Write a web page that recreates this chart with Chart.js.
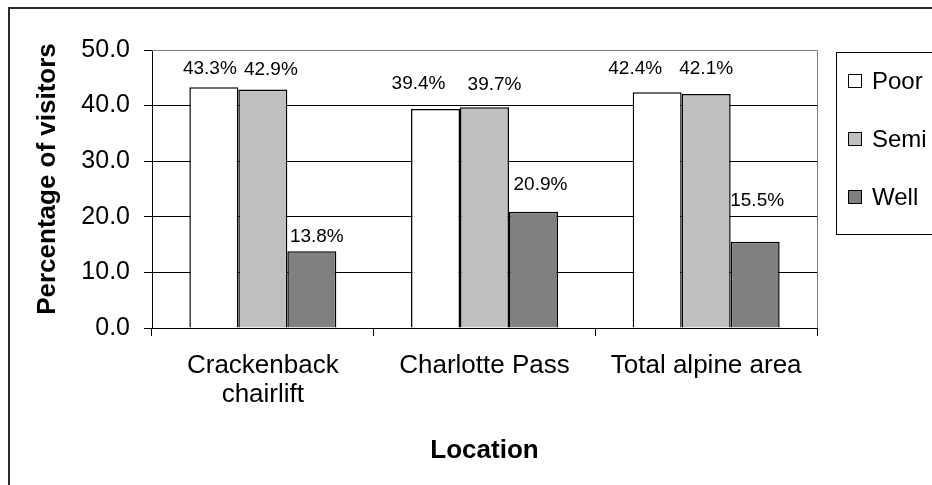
<!DOCTYPE html>
<html>
<head>
<meta charset="utf-8">
<script src="https://cdn.jsdelivr.net/npm/chart.js@4.4.1/dist/chart.umd.min.js"></script>
<style>
  html, body { margin: 0; padding: 0; background: #fff; overflow: hidden; }
  #wrap { width: 932px; height: 485px; position: relative; }
</style>
</head>
<body>
<div id="wrap"><canvas id="chart"></canvas></div>
<script>
// données
const locations = [['Crackenback', 'chairlift'], 'Charlotte Pass', 'Total alpine area'];
const poorValues = [43.3, 39.4, 42.4];
const semiValues = [42.9, 39.7, 42.1];
const wellValues = [13.8, 20.9, 15.5];
const seriesNames = ['Poor', 'Semi', 'Well'];
const seriesColors = ['#ffffff', '#c0c0c0', '#808080'];
const yTicks = [0, 10, 20, 30, 40, 50];

// décalages des étiquettes (déplacées à la main dans l'original), en px
const poorLabelShift = [[-4, 0], [-17, -7], [-22, -5]];
const semiLabelShift = [[8, -2], [10, -5], [0, -7]];
const wellLabelShift = [[5, 3], [7, -9], [2, -23]];

const FONT = "Arial, 'Liberation Sans', sans-serif";

// cadre extérieur + bord gris de la zone de tracé + titre vertical
const framePlugin = {
    id: 'frame',
    beforeDraw(chart) {
        const c = chart.ctx;
        c.save();
        c.fillStyle = '#fff';
        c.fillRect(0, 0, chart.width, chart.height);
        c.strokeStyle = '#2b2b2b';
        c.lineWidth = 2;
        c.strokeRect(9, 8, 1200, 1200);
        c.restore();
    },
    afterDraw(chart) {
        const a = chart.chartArea;
        const c = chart.ctx;
        c.save();
        c.strokeStyle = '#808080';
        c.lineWidth = 1;
        c.beginPath();
        c.moveTo(a.left, a.top + 0.5);
        c.lineTo(a.right + 0.5, a.top + 0.5);
        c.lineTo(a.right + 0.5, a.bottom);
        c.stroke();

        c.translate(48, 179);
        c.rotate(-Math.PI / 2);
        c.font = 'bold 26px ' + FONT;
        c.fillStyle = '#000';
        c.textAlign = 'center';
        c.textBaseline = 'middle';
        c.fillText('Percentage of visitors', 0, 0);
        c.restore();
    }
};

// étiquettes de valeurs au-dessus des barres
const valueLabels = {
    id: 'valueLabels',
    afterDatasetsDraw(chart) {
        const shifts = [poorLabelShift, semiLabelShift, wellLabelShift];
        const c = chart.ctx;
        c.save();
        c.font = '19px ' + FONT;
        c.fillStyle = '#000';
        c.textAlign = 'center';
        c.textBaseline = 'middle';
        chart.data.datasets.forEach((ds, i) => {
            chart.getDatasetMeta(i).data.forEach((bar, j) => {
                const s = shifts[i][j];
                c.fillText(ds.data[j].toFixed(1) + '%', bar.x + s[0], bar.y - 18 + s[1]);
            });
        });
        c.restore();
    }
};

// légende dessinée à droite (coupée par le bord)
const boxLegend = {
    id: 'boxLegend',
    afterDraw(chart) {
        const c = chart.ctx;
        c.save();
        c.strokeStyle = '#000';
        c.lineWidth = 1;
        c.strokeRect(836.5, 52.5, 200, 182);
        const rows = [81, 139, 197];
        c.font = '24px ' + FONT;
        c.textBaseline = 'middle';
        chart.data.datasets.forEach((ds, i) => {
            c.fillStyle = ds.backgroundColor;
            c.fillRect(848, rows[i] - 7, 14, 14);
            c.strokeStyle = '#000';
            c.strokeRect(848.5, rows[i] - 6.5, 13, 13);
            c.fillStyle = '#000';
            c.fillText(ds.label, 872, rows[i] + 1);
        });
        c.restore();
    }
};

const ctx = document.getElementById('chart').getContext('2d');
new Chart(ctx, {
    type: 'bar',
    data: {
        labels: locations,
        datasets: [poorValues, semiValues, wellValues].map((vals, i) => ({
            label: seriesNames[i],
            data: vals,
            backgroundColor: seriesColors[i],
            borderColor: '#000',
            borderWidth: 1.5,
            categoryPercentage: 0.663,
            barPercentage: 1
        }))
    },
    options: {
        responsive: true,
        maintainAspectRatio: false,
        animation: false,
        layout: { padding: { left: 0, right: 115, top: 50, bottom: 0 } },
        plugins: {
            legend: { display: false },
            tooltip: { enabled: false }
        },
        scales: {
            x: {
                afterFit(scale) { scale.height = 157; },
                grid: {
                    offset: true,
                    drawOnChartArea: false,
                    color: '#000',
                    tickLength: 8
                },
                border: { color: '#000', width: 1 },
                ticks: {
                    color: '#000',
                    padding: 16,
                    maxRotation: 0,
                    font: { family: FONT, size: 26, lineHeight: 1.1 }
                },
                title: {
                    display: true,
                    text: 'Location',
                    color: '#000',
                    font: { family: FONT, size: 26, weight: 'bold' },
                    padding: { top: 0, bottom: 19 }
                }
            },
            y: {
                min: 0,
                max: 50,
                afterFit(scale) { scale.width = 152; },
                afterBuildTicks(scale) { scale.ticks = yTicks.map(v => ({ value: v })); },
                grid: {
                    color: c => (c.tick && c.tick.value === 50 ? '#808080' : '#000'),
                    tickColor: '#000',
                    tickLength: 8
                },
                border: { color: '#000', width: 1 },
                ticks: {
                    color: '#000',
                    padding: 14,
                    font: { family: FONT, size: 25 },
                    callback: v => Number(v).toFixed(1)
                },
                title: { display: false }
            }
        }
    },
    plugins: [framePlugin, valueLabels, boxLegend]
});
</script>
</body>
</html>
